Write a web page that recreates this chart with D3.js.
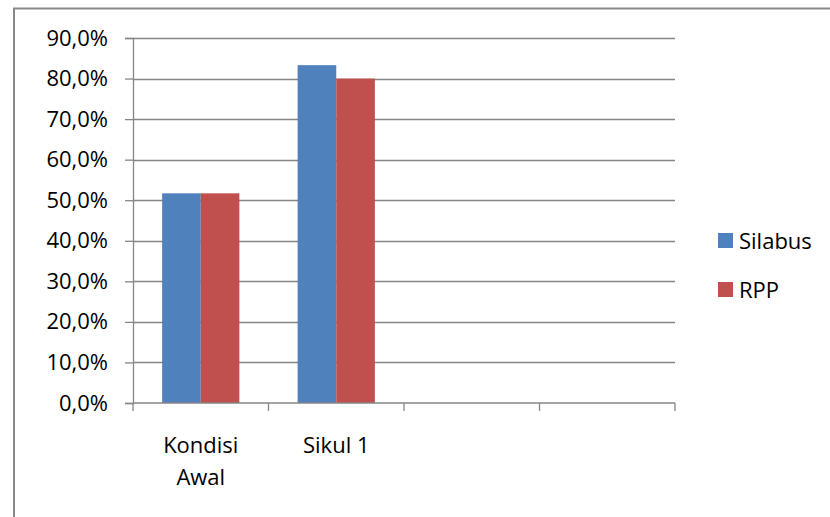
<!DOCTYPE html>
<html>
<head>
<meta charset="utf-8">
<script src="https://cdn.jsdelivr.net/npm/d3@7"></script>
<style>
  body { margin: 0; background: #fff; }
  svg { display: block; font-family: "Open Sans", sans-serif; }
</style>
</head>
<body>
<div id="wrapper"></div>
<script>
// data
const categories = ["Kondisi Awal", "Sikul 1", "c3", "c4"]
const categoryLabels = [["Kondisi", "Awal"], ["Sikul 1"], [], []]
const seriesNames = ["Silabus", "RPP"]
const silabus = [0.517, 0.833, null, null]
const rpp = [0.517, 0.800, null, null]
const yTicks = [0, 0.1, 0.2, 0.3, 0.4, 0.5, 0.6, 0.7, 0.8, 0.9]
const colors = ["#4F81BD", "#C0504D"]

const W = 830, H = 517
const plot = {left: 133, right: 675, top: 38, bottom: 403}

const svg = d3.select("#wrapper")
    .append("svg")
    .attr("width", W)
    .attr("height", H)

// outer frame
svg.append("path")
    .attr("d", `M14,${H + 5} V8.5 H${W + 5}`)
    .attr("fill", "none")
    .attr("stroke", "#898989")
    .attr("stroke-width", 2)

const x = d3.scaleBand()
    .domain(categories)
    .range([plot.left, plot.right])

const y = d3.scaleLinear()
    .domain([0, 0.9])
    .range([plot.bottom, plot.top])

// gridlines
svg.append("g")
    .selectAll("line")
    .data(yTicks.slice(1))
    .join("line")
    .attr("x1", plot.left)
    .attr("x2", plot.right)
    .attr("y1", d => Math.round(y(d)) + 0.5)
    .attr("y2", d => Math.round(y(d)) + 0.5)
    .attr("stroke", "#868686")
    .attr("stroke-width", 1.3)

// bars
const groupW = x.bandwidth() * 0.57
const x1 = d3.scaleBand()
    .domain(seriesNames)
    .range([0, groupW])

const seriesData = [silabus, rpp]
seriesData.forEach(function(vals, s) {
    svg.append("g")
        .selectAll("rect")
        .data(vals.map((v, i) => ({cat: categories[i], v: v})).filter(d => d.v != null))
        .join("rect")
        .attr("x", d => x(d.cat) + (x.bandwidth() - groupW) / 2 + x1(seriesNames[s]))
        .attr("y", d => y(d.v))
        .attr("width", x1.bandwidth())
        .attr("height", d => y(0) - y(d.v))
        .attr("fill", colors[s])
})

// y axis
const yAxis = svg.append("g")
    .attr("transform", `translate(${plot.left},0)`)
    .call(d3.axisLeft(y)
        .tickValues(yTicks)
        .tickSize(8)
        .tickPadding(17)
        .tickFormat(d => (d * 100).toFixed(1).replace(".", ",") + "%"))
yAxis.select(".domain").attr("stroke", "#868686").attr("stroke-width", 1.3)
yAxis.selectAll(".tick line").attr("stroke", "#868686").attr("stroke-width", 1.3)
yAxis.selectAll("text")
    .attr("font-size", 22)
    .attr("font-family", "Open Sans")
    .attr("fill", "#000")

// x axis
const xAxisG = svg.append("g")
    .attr("transform", `translate(0,${plot.bottom})`)
xAxisG.append("line")
    .attr("x1", plot.left).attr("x2", plot.right)
    .attr("stroke", "#868686").attr("stroke-width", 1.3)
xAxisG.selectAll(".tk")
    .data(categories.map(c => x(c)).concat([plot.right]))
    .join("line")
    .attr("x1", d => d).attr("x2", d => d)
    .attr("y1", 0).attr("y2", 8)
    .attr("stroke", "#868686").attr("stroke-width", 1.3)

const xl = svg.append("g")
categories.forEach(function(c, i) {
    const t = xl.append("text")
        .attr("text-anchor", "middle")
        .attr("font-size", 22)
        .attr("fill", "#000")
    categoryLabels[i].forEach(function(line, j) {
        t.append("tspan")
            .attr("x", x(c) + x.bandwidth() / 2)
            .attr("y", 453 + j * 32)
            .text(line)
    })
})

// legend
const legend = svg.append("g")
seriesNames.forEach(function(n, i) {
    legend.append("rect")
        .attr("x", 718)
        .attr("y", 233 + i * 49)
        .attr("width", 15)
        .attr("height", 15)
        .attr("fill", colors[i])
    legend.append("text")
        .attr("x", 739)
        .attr("y", 249 + i * 49)
        .attr("font-size", 22)
        .attr("fill", "#000")
        .text(n)
})
</script>
</body>
</html>
